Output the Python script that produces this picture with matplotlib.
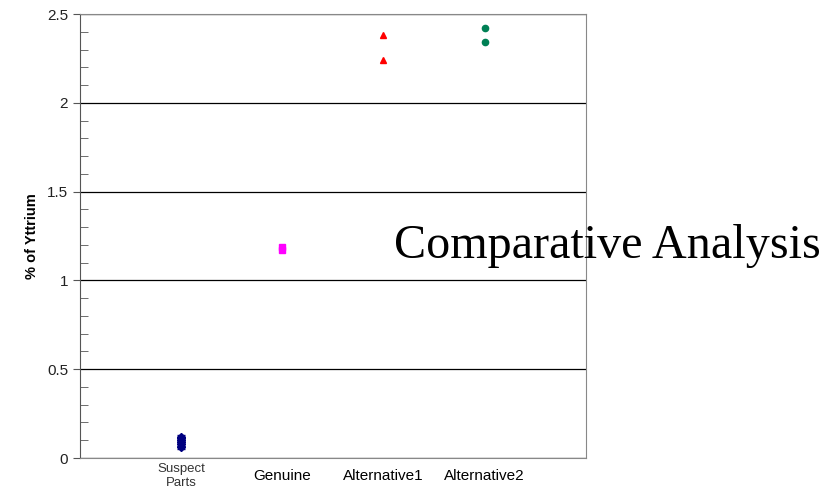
import matplotlib
matplotlib.use("Agg")
import matplotlib.pyplot as plt
from matplotlib.ticker import MultipleLocator, FuncFormatter

plt.rcParams["font.family"] = ["Liberation Sans", "DejaVu Sans"]

categories = ["Suspect\nParts", "Genuine", "Alternative1", "Alternative2"]
suspect_vals = [0.06, 0.08, 0.09, 0.10, 0.11, 0.12]
suspect_err = [0.01, 0.01, 0.01, 0.01, 0.01, 0.01]
genuine_vals = [1.17, 1.19]
alt1_vals = [2.38, 2.24]
alt2_vals = [2.42, 2.34]

fig = plt.figure(figsize=(8.25, 4.9), dpi=100)
ax = fig.add_axes([0.097, 0.0653, 0.613, 0.9061])

ax.errorbar([1] * len(suspect_vals), suspect_vals, yerr=suspect_err, fmt="D",
            color="#000080", ms=4, capsize=3, elinewidth=1, lw=0)
ax.plot([2] * len(genuine_vals), genuine_vals, "s", color="#FF00FF", ms=4)
ax.plot([3] * len(alt1_vals), alt1_vals, "^", color="#FF0000", ms=5)
ax.plot([4] * len(alt2_vals), alt2_vals, "o", color="#008055", ms=4.5)

ax.set_xlim(0, 5)
ax.set_ylim(0, 2.5)
ax.set_xticks([1, 2, 3, 4])
ax.set_xticklabels(categories)
ax.tick_params(axis="x", length=0, pad=13)
for i, lbl in enumerate(ax.get_xticklabels()):
    lbl.set_va("center")
    if i == 0:
        lbl.set_fontsize(9.5)
        lbl.set_color("#333333")
        lbl.set_linespacing(1.3)
    else:
        lbl.set_fontsize(11)
ax.yaxis.set_major_locator(MultipleLocator(0.5))
ax.yaxis.set_minor_locator(MultipleLocator(0.1))
ax.yaxis.set_major_formatter(FuncFormatter(lambda v, p: f"{v:g}"))
ax.tick_params(axis="y", which="major", direction="out", length=5, labelsize=11,
               color="#555555", labelcolor="#222222")
ax.tick_params(axis="y", which="minor", direction="in", length=6, color="#555555")
ax.grid(axis="y", which="major", color="black", lw=0.9)
ax.set_axisbelow(True)
for s in ["top", "right", "bottom"]:
    ax.spines[s].set_color("#888888")
ax.spines["left"].set_color("#555555")
ax.set_ylabel("% of Yttrium", fontsize=10.5, fontweight="bold", labelpad=6)

fig.text(0.478, 0.497, "Comparative Analysis", family="Liberation Serif",
         fontsize=34.7, va="center", ha="left")

fig.savefig("out.png", dpi=100)
